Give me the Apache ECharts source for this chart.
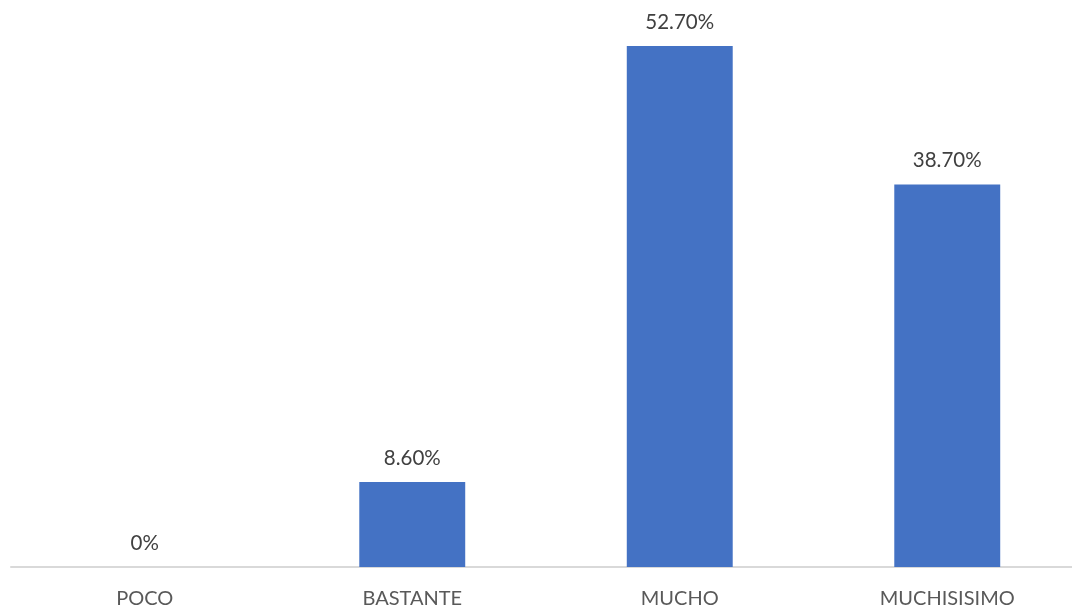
<!DOCTYPE html>
<html>
<head>
<meta charset="utf-8">
<title>Distribución de respuestas</title>
<script src="https://cdn.jsdelivr.net/npm/echarts@6/dist/echarts.min.js"></script>
<style>
  html, body { margin: 0; padding: 0; background: #ffffff; }
  #chart { width: 1072px; height: 612px; }
</style>
</head>
<body>
<div id="chart"></div>
<script>
// Response categories and their share of answers (percent)
const categories = ['POCO', 'BASTANTE', 'MUCHO', 'MUCHISISIMO'];
const values = [0, 8.6, 52.7, 38.7];
const valueLabels = ['0%', '8.60%', '52.70%', '38.70%'];

const chart = echarts.init(document.getElementById('chart'), null, { renderer: 'canvas' });

chart.setOption({
  animation: false,
  backgroundColor: '#ffffff',
  // plot area runs a little past the right edge of the canvas
  grid: {
    left: 11, width: 1070, top: 0, bottom: 45,
    containLabel: false,
    outerBoundsMode: 'none'
  },
  xAxis: {
    type: 'category',
    data: categories,
    axisLine: { show: true, lineStyle: { color: '#d9d9d9', width: 2 } },
    axisTick: { show: false },
    axisLabel: {
      color: '#595959',
      fontFamily: 'Lato',
      fontSize: 20,
      margin: 22
    }
  },
  yAxis: {
    type: 'value',
    min: 0,
    max: 57.35,
    show: false,
    splitLine: { show: false }
  },
  series: [{
    type: 'bar',
    data: values,
    barWidth: '39.6%',
    itemStyle: { color: '#4472c4' },
    label: {
      show: true,
      position: 'top',
      distance: 13,
      color: '#404040',
      fontFamily: 'Lato',
      fontSize: 20.5,
      formatter: p => valueLabels[p.dataIndex]
    }
  }]
});
</script>
</body>
</html>
